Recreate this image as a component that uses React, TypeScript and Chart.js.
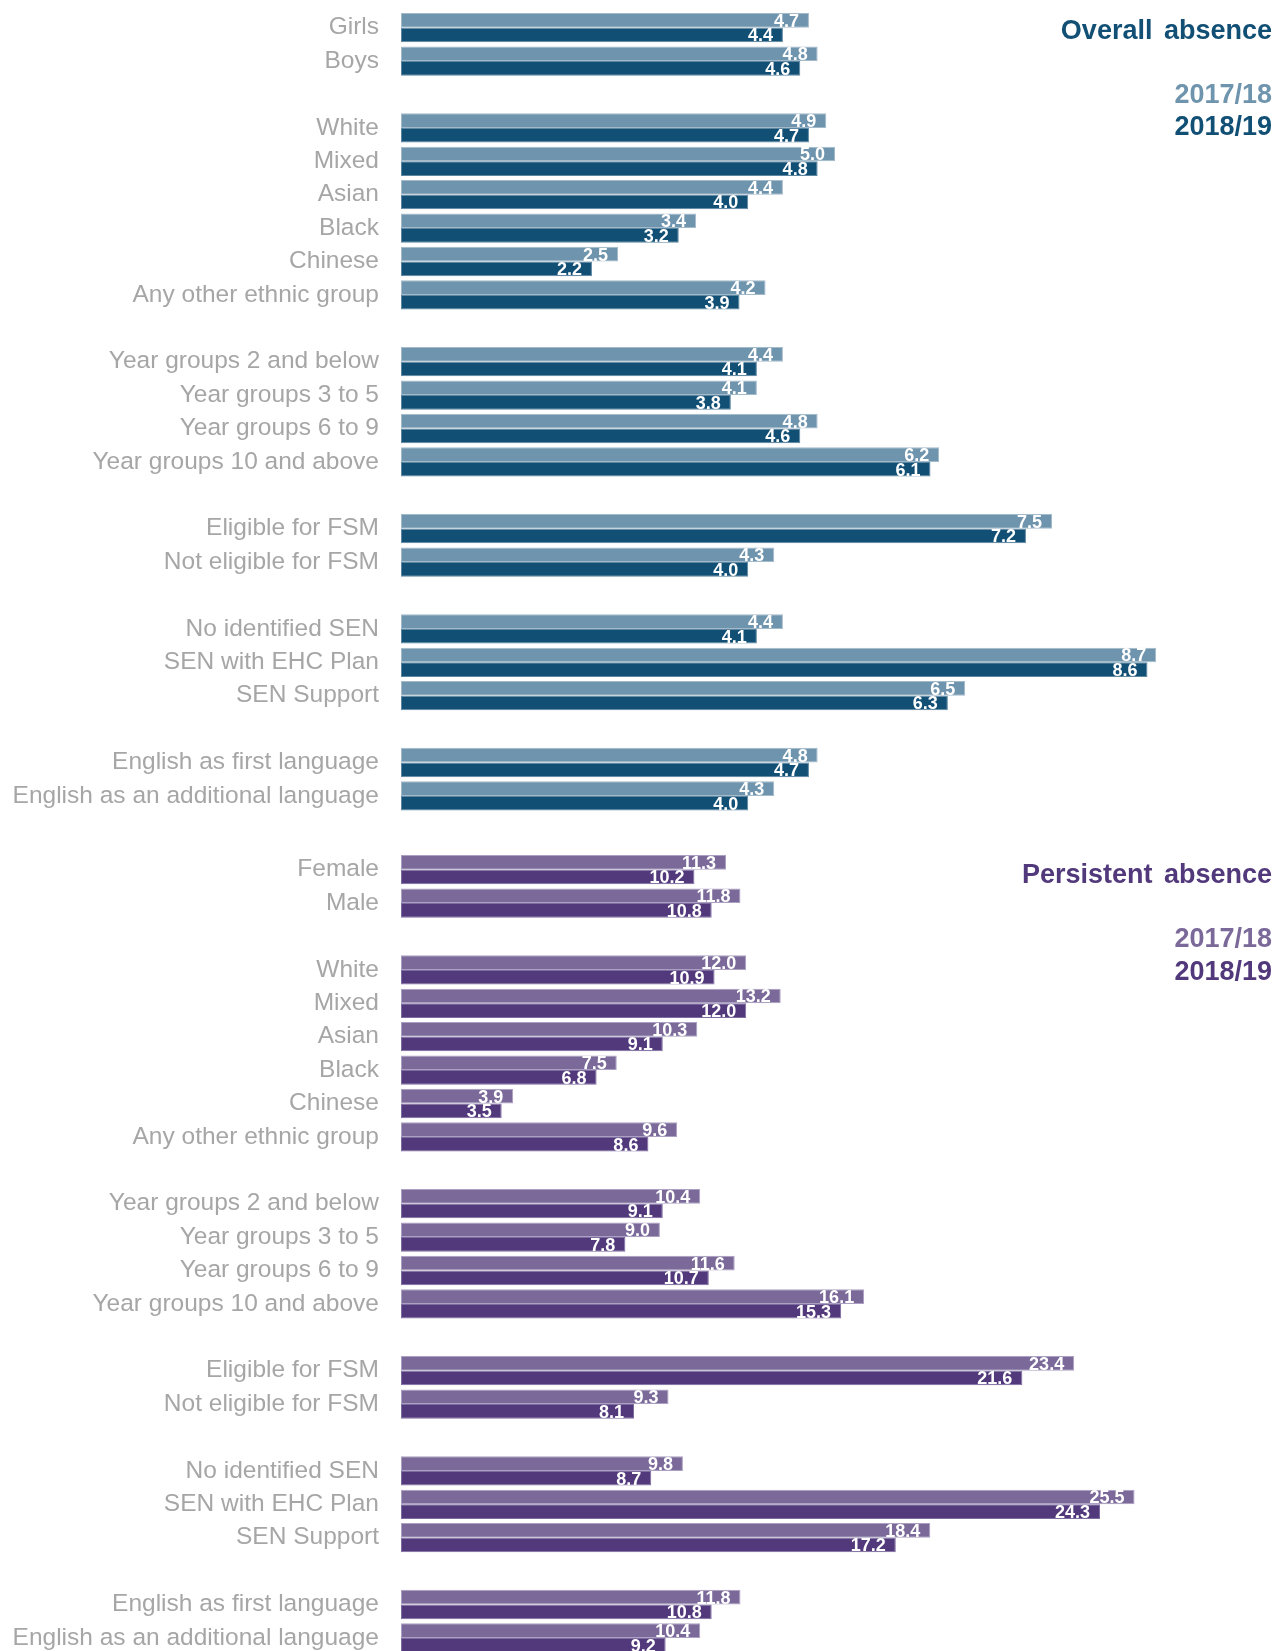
import React, { useEffect, useRef } from "react";
import { Chart, registerables } from "chart.js";

Chart.register(...registerables);

const overallCategories = [
  "Girls", "Boys", "",
  "White", "Mixed", "Asian", "Black", "Chinese", "Any other ethnic group", "",
  "Year groups 2 and below", "Year groups 3 to 5", "Year groups 6 to 9", "Year groups 10 and above", "",
  "Eligible for FSM", "Not eligible for FSM", "",
  "No identified SEN", "SEN with EHC Plan", "SEN Support", "",
  "English as first language", "English as an additional language",
];

const persistentCategories = [
  "Female", "Male", "",
  "White", "Mixed", "Asian", "Black", "Chinese", "Any other ethnic group", "",
  "Year groups 2 and below", "Year groups 3 to 5", "Year groups 6 to 9", "Year groups 10 and above", "",
  "Eligible for FSM", "Not eligible for FSM", "",
  "No identified SEN", "SEN with EHC Plan", "SEN Support", "",
  "English as first language", "English as an additional language",
];

const seriesNames = ["2017/18", "2018/19"];

const overall1718 = [4.7, 4.8, null, 4.9, 5.0, 4.4, 3.4, 2.5, 4.2, null, 4.4, 4.1, 4.8, 6.2, null, 7.5, 4.3, null, 4.4, 8.7, 6.5, null, 4.8, 4.3];
const overall1819 = [4.4, 4.6, null, 4.7, 4.8, 4.0, 3.2, 2.2, 3.9, null, 4.1, 3.8, 4.6, 6.1, null, 7.2, 4.0, null, 4.1, 8.6, 6.3, null, 4.7, 4.0];

const persistent1718 = [11.3, 11.8, null, 12.0, 13.2, 10.3, 7.5, 3.9, 9.6, null, 10.4, 9.0, 11.6, 16.1, null, 23.4, 9.3, null, 9.8, 25.5, 18.4, null, 11.8, 10.4];
const persistent1819 = [10.2, 10.8, null, 10.9, 12.0, 9.1, 6.8, 3.5, 8.6, null, 9.1, 7.8, 10.7, 15.3, null, 21.6, 8.1, null, 8.7, 24.3, 17.2, null, 10.8, 9.2];

const overallTitle = "Overall absence";
const persistentTitle = "Persistent absence";

type PanelProps = {
  categories: string[];
  a: (number | null)[];
  b: (number | null)[];
  max: number;
  title: string;
  colors: { light: string; dark: string; lightBorder: string; darkBorder: string };
  height: number;
  padTop: number;
  padBottom: number;
  padRight: number;
  titleY: number[];
};

function Panel(props: PanelProps) {
  const ref = useRef<HTMLCanvasElement | null>(null);
  useEffect(() => {
    if (!ref.current) return;
    const { colors } = props;
    const labelPlugin = {
      id: "valueLabels",
      afterDatasetsDraw(chart: any) {
        const ctx = chart.ctx;
        ctx.save();
        ctx.font = "bold 18px 'Liberation Sans', Arial, sans-serif";
        ctx.fillStyle = "#ffffff";
        ctx.textAlign = "right";
        ctx.textBaseline = "middle";
        chart.data.datasets.forEach((ds: any, i: number) => {
          const meta = chart.getDatasetMeta(i);
          meta.data.forEach((el: any, j: number) => {
            const v = ds.data[j];
            if (v === null || v === undefined) return;
            ctx.fillText(v.toFixed(1), el.x - 10, el.y + 1.5);
          });
        });
        ctx.restore();
      },
    };
    const titlePlugin = {
      id: "panelTitle",
      afterDraw(chart: any) {
        const ctx = chart.ctx;
        ctx.save();
        ctx.font = "bold 27px 'Liberation Sans', Arial, sans-serif";
        ctx.textAlign = "right";
        ctx.textBaseline = "middle";
        const x = 1272;
        ctx.fillStyle = colors.dark;
        try { (ctx as any).wordSpacing = "4px"; } catch (e) {}
        ctx.fillText(props.title, x, props.titleY[0]);
        try { (ctx as any).wordSpacing = "0px"; } catch (e) {}
        ctx.fillStyle = colors.light;
        ctx.fillText(seriesNames[0], x, props.titleY[1]);
        ctx.fillStyle = colors.dark;
        ctx.fillText(seriesNames[1], x, props.titleY[2]);
        ctx.restore();
      },
    };
    const chart = new Chart(ref.current, {
      type: "bar",
      data: {
        labels: props.categories,
        datasets: [
          {
            label: seriesNames[0],
            data: props.a,
            backgroundColor: colors.light,
            borderColor: colors.lightBorder,
            borderWidth: 1,
            borderSkipped: false,
            barPercentage: 1,
            categoryPercentage: 0.877,
          },
          {
            label: seriesNames[1],
            data: props.b,
            backgroundColor: colors.dark,
            borderColor: colors.darkBorder,
            borderWidth: 1,
            borderSkipped: false,
            barPercentage: 1,
            categoryPercentage: 0.877,
          },
        ],
      },
      options: {
        indexAxis: "y",
        responsive: false,
        animation: false,
        devicePixelRatio: 1,
        layout: {
          autoPadding: false,
          padding: { top: props.padTop, bottom: props.padBottom, left: 0, right: props.padRight },
        },
        plugins: {
          legend: { display: false },
          tooltip: { enabled: false },
          title: { display: false },
        },
        scales: {
          x: {
            display: false,
            min: 0,
            max: props.max,
          },
          y: {
            grid: { display: false, drawTicks: false },
            border: { display: false },
            ticks: {
              color: "#a6a6a6",
              padding: 22,
              autoSkip: false,
              font: { family: "'Liberation Sans', Arial, sans-serif", size: 24.5 },
            },
            afterFit: (s: any) => {
              s.width = 401;
              s.paddingTop = 0;
              s.paddingBottom = 0;
            },
          },
        },
      },
      plugins: [labelPlugin, titlePlugin],
    } as any);
    return () => chart.destroy();
  }, []);
  return (
    <canvas
      ref={ref}
      width={1276}
      height={props.height}
      style={{ display: "block", width: 1276, height: props.height }}
    />
  );
}

export default function App() {
  const blue = { light: "#6f94ad", dark: "#114f75", lightBorder: "#a3bacb", darkBorder: "#5d86a1" };
  const purple = { light: "#7a6999", dark: "#52397b", lightBorder: "#ab9fc2", darkBorder: "#7d6ca0" };
  return (
    <div style={{ position: "absolute", left: 0, top: 0, width: 1276, height: 1651, overflow: "hidden", background: "#ffffff" }}>
      <div style={{ position: "absolute", left: 0, top: 1 }}>
        <Panel
          categories={overallCategories}
          a={overall1718}
          b={overall1819}
          max={10}
          title={overallTitle}
          colors={blue}
          height={835}
          padTop={10}
          padBottom={23.4}
          padRight={7}
          titleY={[30.5, 95, 127]}
        />
      </div>
      <div style={{ position: "absolute", left: 0, top: 836 }}>
        <Panel
          categories={persistentCategories}
          a={persistent1718}
          b={persistent1819}
          max={30}
          title={persistentTitle}
          colors={purple}
          height={830}
          padTop={17}
          padBottom={11.4}
          padRight={12}
          titleY={[40, 104, 137]}
        />
      </div>
    </div>
  );
}
